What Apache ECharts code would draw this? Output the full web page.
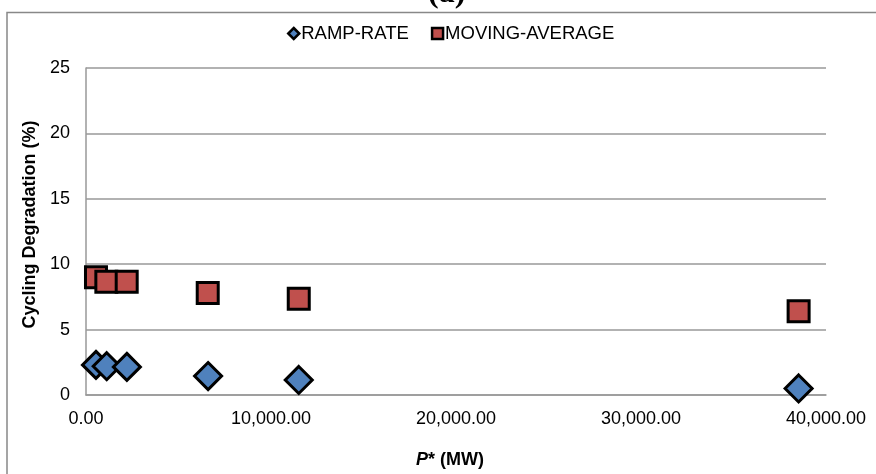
<!DOCTYPE html>
<html>
<head>
<meta charset="utf-8">
<script src="https://cdn.jsdelivr.net/npm/echarts@6/dist/echarts.min.js"></script>
<style>
html,body{margin:0;padding:0;background:#fff;}
#chart{width:876px;height:474px;}
</style>
</head>
<body>
<div id="chart"></div>
<script>
const titleText = "(a)";
const seriesNames = ["RAMP-RATE", "MOVING-AVERAGE"];
const rampX = [540, 1120, 2210, 6600, 11500, 38520];
const rampY = [2.3, 2.2, 2.15, 1.45, 1.15, 0.5];
const maX = [540, 1100, 2200, 6580, 11500, 38520];
const maY = [9.0, 8.65, 8.65, 7.8, 7.35, 6.4];
const xTicks = [0, 10000, 20000, 30000, 40000];
const yTicks = [0, 5, 10, 15, 20, 25];

const chart = echarts.init(document.getElementById('chart'));
const fontFam = '"Liberation Sans", Arial, sans-serif';
const fmtX = v => Number(v).toLocaleString('en-US', {minimumFractionDigits: 2, maximumFractionDigits: 2});

chart.setOption({
  backgroundColor: '#ffffff',
  animation: false,
  title: {
    text: titleText,
    left: 428,
    top: -22,
    padding: 0,
    textStyle: {fontFamily: '"Liberation Serif", "Times New Roman", serif', fontWeight: 'bold', fontSize: 32, color: '#000'}
  },
  graphic: [{
    type: 'rect', z: -1,
    shape: {x: 7, y: 12.5, width: 900, height: 500},
    style: {fill: 'none', stroke: '#888', lineWidth: 1.5}
  }],
  legend: {
    top: 19,
    left: 282,
    itemWidth: 11,
    itemHeight: 11,
    itemGap: 22,
    textStyle: {fontFamily: fontFam, fontSize: 18.5, color: '#000', padding: [0, 0, 0, -3]},
    itemStyle: {borderColor: '#000', borderWidth: 2.5, opacity: 1},
    data: seriesNames
  },
  grid: {left: 86, right: 50, top: 68, bottom: 77, containLabel: false},
  xAxis: {
    type: 'value',
    min: xTicks[0], max: xTicks[xTicks.length - 1], interval: 10000,
    name: '{i|P}{b|* (MW)}',
    nameLocation: 'middle',
    nameGap: 56,
    nameTextStyle: {
      padding: [0, 12, 0, 0],
      rich: {
        i: {fontFamily: fontFam, fontWeight: 'bold', fontStyle: 'italic', fontSize: 18, color: '#000'},
        b: {fontFamily: fontFam, fontWeight: 'bold', fontSize: 18, color: '#000'}
      }
    },
    axisLine: {show: true, lineStyle: {color: '#999', width: 1.5}},
    axisTick: {show: false},
    splitLine: {show: false},
    axisLabel: {fontFamily: fontFam, fontSize: 18, color: '#000', margin: 15, formatter: fmtX}
  },
  yAxis: {
    type: 'value',
    min: yTicks[0], max: yTicks[yTicks.length - 1], interval: 5,
    name: 'Cycling Degradation (%)',
    nameLocation: 'middle',
    nameGap: 47,
    nameTextStyle: {fontFamily: fontFam, fontWeight: 'bold', fontSize: 18, color: '#000', padding: [0, 0, 0, 14]},
    axisLine: {show: true, lineStyle: {color: '#999', width: 1.5}},
    axisTick: {show: false},
    splitLine: {show: true, lineStyle: {color: '#999', width: 1.5}},
    axisLabel: {fontFamily: fontFam, fontSize: 18, color: '#000', margin: 16}
  },
  series: [
    {
      name: seriesNames[0],
      type: 'scatter',
      symbol: 'diamond',
      symbolSize: 27,
      itemStyle: {color: '#4F81BD', borderColor: '#000', borderWidth: 3, opacity: 1},
      data: rampX.map((x, i) => [x, rampY[i]])
    },
    {
      name: seriesNames[1],
      type: 'scatter',
      symbol: 'rect',
      symbolSize: 21,
      itemStyle: {color: '#C0504D', borderColor: '#000', borderWidth: 3, borderRadius: 2, opacity: 1},
      data: maX.map((x, i) => [x, maY[i]])
    }
  ]
});
</script>
</body>
</html>
